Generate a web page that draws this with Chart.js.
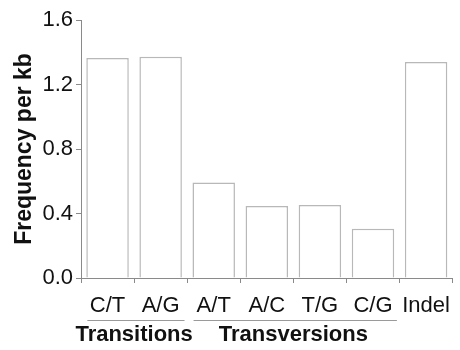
<!DOCTYPE html>
<html>
<head>
<meta charset="utf-8">
<script src="https://cdn.jsdelivr.net/npm/chart.js@4/dist/chart.umd.min.js"></script>
<style>
    html, body { margin: 0; padding: 0; background: #fff; }
    #wrap { width: 460px; height: 350px; }
</style>
</head>
<body>
<div id="wrap"><canvas id="mutationChart" width="460" height="350"></canvas></div>
<script>
// Data
const categories = ['C/T', 'A/G', 'A/T', 'A/C', 'T/G', 'C/G', 'Indel'];
const frequencies = [1.365, 1.372, 0.593, 0.446, 0.453, 0.306, 1.34];
const yTicks = [0.0, 0.4, 0.8, 1.2, 1.6];

// Group brackets under the category labels (category index ranges)
const groupNames = ['Transitions', 'Transversions'];
const groupStart = [0, 2];
const groupEnd = [1, 5];

const fontFamily = "'Liberation Sans', Arial, sans-serif";
const textColor = '#111';
const axisColor = '#8a8a8a';

// Draws the group names with a line above each one
const groupLabels = {
    id: 'groupLabels',
    afterDraw(chart) {
        const ctx = chart.ctx;
        const x = chart.scales.x;
        const step = x.getPixelForValue(1) - x.getPixelForValue(0);
        ctx.save();
        groupNames.forEach((name, i) => {
            const x0 = x.getPixelForValue(groupStart[i]) - step * 0.38;
            const x1 = x.getPixelForValue(groupEnd[i]) + step * 0.45;
            ctx.strokeStyle = '#9a9a9a';
            ctx.lineWidth = 1;
            ctx.beginPath();
            ctx.moveTo(x0, 320.5);
            ctx.lineTo(x1, 320.5);
            ctx.stroke();

            const cx = (x.getPixelForValue(groupStart[i]) + x.getPixelForValue(groupEnd[i])) / 2;
            ctx.fillStyle = textColor;
            ctx.font = `bold 22px ${fontFamily}`;
            ctx.textAlign = 'center';
            ctx.textBaseline = 'middle';
            ctx.fillText(name, cx, 335);
        });
        ctx.restore();
    }
};

new Chart(document.getElementById('mutationChart').getContext('2d'), {
    type: 'bar',
    data: {
        labels: categories,
        datasets: [{
            data: frequencies,
            backgroundColor: '#ffffff',
            borderColor: '#b8b8b8',
            borderWidth: 1.5,
            barPercentage: 0.8,
            categoryPercentage: 1.0
        }]
    },
    options: {
        responsive: false,
        animation: false,
        layout: { padding: { top: 20, right: 1, left: 0, bottom: 0 } },
        plugins: {
            legend: { display: false },
            tooltip: { enabled: false }
        },
        scales: {
            x: {
                offset: true,
                grid: {
                    offset: true,
                    drawOnChartArea: false,
                    drawTicks: true,
                    tickLength: 5,
                    color: axisColor
                },
                border: { color: axisColor, width: 1 },
                ticks: {
                    color: textColor,
                    padding: 10,
                    maxRotation: 0,
                    font: { family: fontFamily, size: 22 }
                },
                afterFit(scale) { scale.height = 72; }
            },
            y: {
                min: 0,
                max: 1.6,
                afterBuildTicks(scale) {
                    scale.ticks = yTicks.map(v => ({ value: v }));
                },
                grid: {
                    drawOnChartArea: false,
                    drawTicks: true,
                    tickLength: 5,
                    color: axisColor
                },
                border: { color: axisColor, width: 1 },
                ticks: {
                    color: textColor,
                    padding: 3,
                    font: { family: fontFamily, size: 22 },
                    callback: v => Number(v).toFixed(1)
                },
                title: {
                    display: true,
                    text: 'Frequency per kb',
                    color: textColor,
                    font: { family: fontFamily, size: 23, weight: 'bold' },
                    padding: { top: 11, bottom: 0 }
                },
                afterFit(scale) { scale.width = 81; }
            }
        }
    },
    plugins: [groupLabels]
});
</script>
</body>
</html>
